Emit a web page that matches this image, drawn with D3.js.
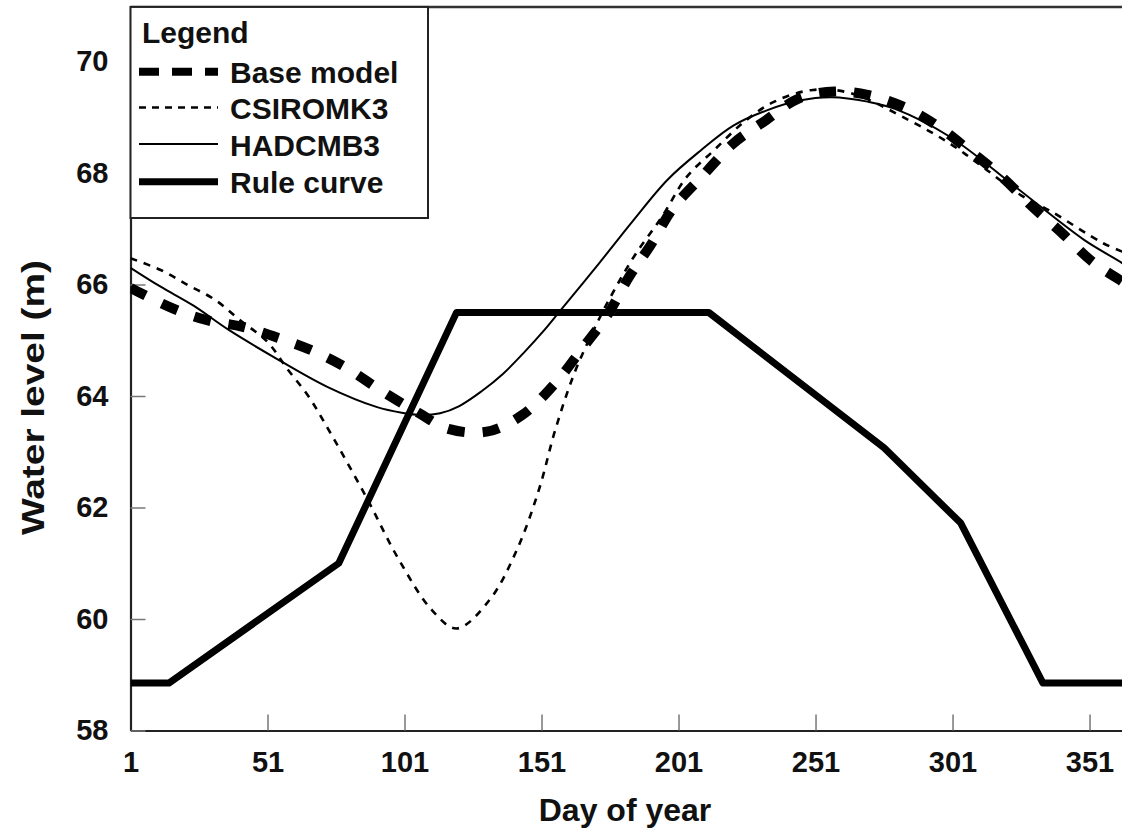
<!DOCTYPE html>
<html>
<head>
<meta charset="utf-8">
<script src="https://cdn.jsdelivr.net/npm/d3@7"></script>
<style>
  html, body { margin: 0; padding: 0; background: #fff; }
  svg { display: block; font-family: Arial, "Liberation Sans", sans-serif; }
</style>
</head>
<body>
<svg id="chart" width="1122" height="837"></svg>
<script>
// Daily reservoir water level (m) under the base model, two climate scenarios and the rule curve
const baseDays   = [1, 16, 29, 42, 55, 68, 80, 92, 106, 117, 131, 144, 156, 166, 175, 183, 191, 199, 210, 221, 233, 245, 258, 270, 283, 295, 307, 319, 330, 341, 352, 363, 365];
const baseLevels = [65.94, 65.58, 65.36, 65.24, 65.04, 64.80, 64.50, 64.11, 63.70, 63.41, 63.36, 63.66, 64.23, 64.86, 65.45, 66.14, 66.72, 67.37, 67.96, 68.53, 68.95, 69.34, 69.46, 69.40, 69.19, 68.86, 68.41, 67.93, 67.40, 66.92, 66.41, 66.05, 65.98];

const csiroDays   = [1, 12, 22, 32, 41, 51, 58, 66, 73, 87, 99, 111, 120, 132, 142, 150, 156, 163, 170, 177, 185, 195, 204, 214, 225, 236, 250, 264, 285, 300, 312, 326, 337, 356, 365];
const csiroLevels = [66.47, 66.26, 65.99, 65.72, 65.36, 64.97, 64.50, 63.99, 63.42, 62.19, 61.06, 60.16, 59.83, 60.34, 61.24, 62.31, 63.39, 64.41, 65.18, 65.85, 66.52, 67.22, 67.93, 68.41, 68.92, 69.28, 69.49, 69.43, 68.95, 68.53, 68.11, 67.60, 67.31, 66.74, 66.55];

const hadDays   = [1, 12, 24, 37, 55, 73, 91, 100, 107, 114, 121, 129, 137, 145, 152, 158, 172, 184, 197, 209, 221, 233, 245, 257, 270, 280, 300, 324, 349, 363, 365];
const hadLevels = [66.30, 65.96, 65.62, 65.18, 64.65, 64.16, 63.80, 63.70, 63.66, 63.69, 63.82, 64.08, 64.40, 64.80, 65.18, 65.54, 66.38, 67.12, 67.88, 68.40, 68.85, 69.12, 69.30, 69.36, 69.28, 69.15, 68.65, 67.75, 66.80, 66.38, 66.30];

const ruleDays   = [1, 15, 77, 120, 212, 276, 304, 334, 365];
const ruleLevels = [58.85, 58.85, 61.0, 65.5, 65.5, 63.07, 61.72, 58.85, 58.85];

const xTickValues = [1, 51, 101, 151, 201, 251, 301, 351];
const yTickValues = [58, 60, 62, 64, 66, 68, 70];

const seriesNames = ["Base model", "CSIROMK3", "HADCMB3", "Rule curve"];

// Line styles per series (plot stroke, legend stroke)
const styles = {
  "Base model": { width: 10,  dash: "17,18", legendWidth: 8,   legendDash: "20,13", smooth: true },
  "CSIROMK3":   { width: 2.6, dash: "7,7",   legendWidth: 2.6, legendDash: "7,6",   smooth: true },
  "HADCMB3":    { width: 2,   dash: null,    legendWidth: 2,   legendDash: null,    smooth: true },
  "Rule curve": { width: 7,   dash: null,    legendWidth: 7,   legendDash: null,    smooth: false }
};

const series = [
  { name: "Rule curve", days: ruleDays,  levels: ruleLevels },
  { name: "CSIROMK3",   days: csiroDays, levels: csiroLevels },
  { name: "HADCMB3",    days: hadDays,   levels: hadLevels },
  { name: "Base model", days: baseDays,  levels: baseLevels }
];

const svg = d3.select("#chart");
svg.append("rect").attr("width", 1122).attr("height", 837).attr("fill", "#fff");

const x = d3.scaleLinear().domain([1, 365]).range([130.5, 1127.9]);
const y = d3.scaleLinear().domain([58, 71]).range([730.5, 5.75]);

// Plot clip
svg.append("defs").append("clipPath").attr("id", "plotClip")
  .append("rect")
  .attr("x", x(1)).attr("y", y(71))
  .attr("width", x(365) - x(1)).attr("height", y(58) - y(71));

// Axes
const xAxis = d3.axisBottom(x).tickValues(xTickValues).tickFormat(d3.format("d"))
  .tickSize(-16).tickSizeOuter(0).tickPadding(21);
const yAxis = d3.axisLeft(y).tickValues(yTickValues).tickFormat(d3.format("d"))
  .tickSize(-15).tickSizeOuter(0).tickPadding(22);

const gx = svg.append("g").attr("transform", `translate(0,${y(58)})`).call(xAxis);
const gy = svg.append("g").attr("transform", `translate(${x(1)},0)`).call(yAxis);

[gx, gy].forEach(g => {
  g.select(".domain").attr("stroke", "#222").attr("stroke-width", 2.2);
  g.selectAll(".tick line").attr("stroke", "#777").attr("stroke-width", 1.5);
  g.selectAll(".tick text")
    .attr("fill", "#111")
    .attr("font-size", 29)
    .attr("font-weight", "bold")
    .attr("font-family", "Arial, 'Liberation Sans', sans-serif");
});

// Top frame line
svg.append("line")
  .attr("x1", x(1)).attr("x2", x(365))
  .attr("y1", y(71) + 1.2).attr("y2", y(71) + 1.2)
  .attr("stroke", "#333").attr("stroke-width", 2.6);

// Series lines
const plot = svg.append("g").attr("clip-path", "url(#plotClip)");
series.forEach(s => {
  const st = styles[s.name];
  const pts = s.days.map((d, i) => [d, s.levels[i]]);
  const line = d3.line()
    .x(p => x(p[0]))
    .y(p => y(p[1]))
    .curve(st.smooth ? d3.curveCatmullRom.alpha(0.5) : d3.curveLinear);
  plot.append("path")
    .datum(pts)
    .attr("d", line)
    .attr("fill", "none")
    .attr("stroke", "#000")
    .attr("stroke-width", st.width)
    .attr("stroke-linejoin", "round")
    .attr("stroke-dasharray", st.dash);
});

// Axis titles
svg.append("text")
  .attr("x", 625).attr("y", 821)
  .attr("text-anchor", "middle")
  .attr("font-size", 32).attr("font-weight", "bold").attr("fill", "#111")
  .text("Day of year");

svg.append("text")
  .attr("transform", "translate(44,397.5) rotate(-90)")
  .attr("text-anchor", "middle")
  .attr("font-size", 31).attr("font-weight", "bold").attr("fill", "#111")
  .attr("textLength", 275).attr("lengthAdjust", "spacingAndGlyphs")
  .text("Water level (m)");

// Legend
const legend = svg.append("g");
legend.append("rect")
  .attr("x", x(1)).attr("y", y(71) + 1.2)
  .attr("width", 428 - x(1)).attr("height", 218 - (y(71) + 1.2))
  .attr("fill", "#fff").attr("stroke", "#222").attr("stroke-width", 2);

legend.append("text")
  .attr("x", 142).attr("y", 43)
  .attr("font-size", 30).attr("font-weight", "bold").attr("fill", "#111")
  .text("Legend");

const legendRows = [71.7, 107.5, 144, 181.7];
seriesNames.forEach((name, i) => {
  const st = styles[name];
  const cy = legendRows[i];
  legend.append("line")
    .attr("x1", 139).attr("x2", 218)
    .attr("y1", cy).attr("y2", cy)
    .attr("stroke", "#000")
    .attr("stroke-width", st.legendWidth)
    .attr("stroke-dasharray", st.legendDash);
  legend.append("text")
    .attr("x", 230).attr("y", cy + 11.5)
    .attr("font-size", 30).attr("font-weight", "bold").attr("fill", "#111")
    .text(name);
});
</script>
</body>
</html>
